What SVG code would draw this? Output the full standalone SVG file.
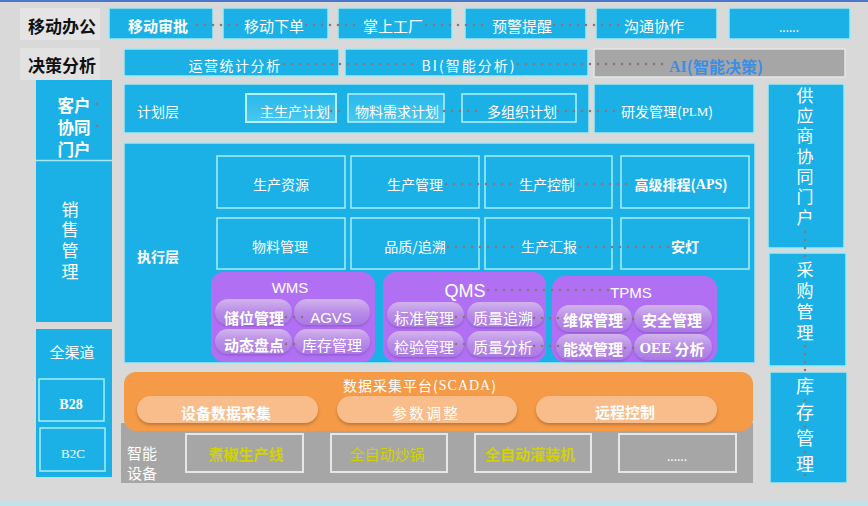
<svg xmlns="http://www.w3.org/2000/svg" width="868" height="506" viewBox="0 0 868 506" font-size="14">
<defs>
<linearGradient id="pill" x1="0" y1="0" x2="0" y2="1">
<stop offset="0" stop-color="#d2b4ec"/>
<stop offset="0.5" stop-color="#b98ce8"/>
<stop offset="1" stop-color="#a978e4"/>
</linearGradient>
<linearGradient id="plan" x1="0" y1="0" x2="0" y2="1">
<stop offset="0" stop-color="#2bb8ea"/>
<stop offset="1" stop-color="#48c8f0"/>
</linearGradient>
<filter id="sh" x="-10%" y="-20%" width="120%" height="160%">
<feDropShadow dx="0" dy="2" stdDeviation="1.5" flood-color="#7a4a20" flood-opacity="0.45"/>
</filter>
<filter id="shp" x="-10%" y="-20%" width="120%" height="160%">
<feDropShadow dx="0" dy="1.5" stdDeviation="1.2" flood-color="#6a3aa0" flood-opacity="0.4"/>
</filter>
</defs>
<style>
text{font-family:"Noto Sans CJK SC","Liberation Sans",sans-serif;fill:#fff;text-anchor:middle;dominant-baseline:central}
.vert{writing-mode:vertical-rl;text-orientation:upright}
.blue{fill:#1bb1e7}
.bb{fill:#1bb1e7;stroke:#a6e8f2;stroke-width:1.5}
.cell{fill:none;stroke:#a6eef6;stroke-width:1.5}
.lbl{fill:#111;font-weight:bold;font-size:17px}
.b{font-weight:bold}
.f15{font-size:15px}
.f16{font-size:16px}
.f165{font-size:16.5px}
.f17{font-size:17px}
.f18{font-size:18px}
.f12{font-size:12px}
.f13{font-size:13px}
.purple{fill:#b170f4}
.pill{fill:url(#pill);filter:url(#shp)}
.opill{fill:#f9bd8b;filter:url(#sh)}
.dev{fill:none;stroke:#e6e6e6;stroke-width:2}
.yel{fill:#d2d200}
.serif{font-family:"Liberation Serif",serif}
.sans{font-family:"Liberation Sans",sans-serif}
.ai{fill:#3a8ee6}
.dots{stroke:#8a7474;stroke-width:2.6;stroke-linecap:round;stroke-dasharray:0 8;fill:none}
</style>
<rect width="868" height="506" fill="#d9d9d9"/>
<rect width="868" height="2" fill="#4a78c8"/>
<rect y="502" width="868" height="4" fill="#bfe3ea"/>

<g id="row-mobile">
<rect x="20" y="8" width="80" height="32" fill="#e4e4e4"/>
<text class="lbl" x="62" y="25">移动办公</text>
</g>
<g id="n-ydsp"><rect class="bb" x="109" y="8" width="104" height="31"/><text class="b f15" x="158" y="25">移动审批</text></g>
<g id="n-ydxd"><rect class="bb" x="223" y="8" width="105" height="31"/><text class="f15" x="274" y="25">移动下单</text></g>
<g id="n-zsgc"><rect class="bb" x="338" y="8" width="114" height="31"/><text class="f15" x="393" y="25">掌上工厂</text></g>
<g id="n-yjtx"><rect class="bb" x="465" y="8" width="121" height="31"/><text class="f15" x="522" y="25">预警提醒</text></g>
<g id="n-gtxz"><rect class="bb" x="596" y="8" width="121" height="31"/><text class="f15" x="654" y="25">沟通协作</text></g>
<g id="n-more1"><rect class="bb" x="729" y="8" width="121" height="31"/><text class="f12" x="789" y="26">......</text></g>

<g id="row-decision">
<rect x="20" y="48" width="80" height="32" fill="#e2e2e2"/>
<text class="lbl" x="62" y="64">决策分析</text>
</g>
<g id="n-yytj"><rect class="bb" x="124" y="49" width="215" height="27"/><text x="235" y="65" letter-spacing="1.5">运营统计分析</text></g>
<g id="n-bi"><rect class="bb" x="345" y="49" width="243" height="27"/><text x="469" y="65" letter-spacing="2">BI(智能分析)</text></g>
<g id="n-ai"><rect x="594" y="49" width="251" height="28" fill="#a6a6a6" stroke="#e6e6e6" stroke-width="1.5"/><text class="b f16 ai" x="716" y="66"><tspan class="serif">AI</tspan>(智能决策)</text></g>

<g id="n-customer"><rect class="blue" x="36" y="80" width="76" height="80"/>
<text class="b f165" x="74" y="105"><tspan x="74" dy="0">客户</tspan><tspan x="74" dy="22">协同</tspan><tspan x="74" dy="22">门户</tspan></text></g>
<g id="n-sales"><rect class="blue" x="36" y="161" width="76" height="161"/><line x1="36" y1="160.5" x2="112" y2="160.5" stroke="#a6e8f2" stroke-width="1.5"/>
<text class="f17 vert" x="70" y="242" letter-spacing="3.7">销售管理</text></g>
<g id="n-channel"><rect class="blue" x="36" y="329" width="76" height="148"/><text class="f15" x="72" y="351">全渠道</text>
<rect x="39" y="379" width="65" height="42" fill="none" stroke="#a6eef6" stroke-width="1.5"/><text class="serif b" x="71" y="404">B28</text>
<rect x="40" y="428" width="65" height="43" fill="none" stroke="#a6eef6" stroke-width="1.5"/><text class="serif f13" x="73" y="453">B2C</text></g>

<g id="n-plan"><rect class="bb" x="124" y="84" width="465" height="49"/><text x="158" y="111">计划层</text>
<rect x="246" y="94" width="90" height="28" fill="url(#plan)" stroke="#b4f2fa" stroke-width="2"/><text x="295" y="111">主生产计划</text>
<rect x="348" y="94" width="96" height="28" fill="url(#plan)" stroke="#b4f2fa" stroke-width="1.5"/><text x="397" y="111">物料需求计划</text>
<rect x="462" y="94" width="114" height="28" fill="none" stroke="#b4f2fa" stroke-width="1.5"/><text x="522" y="111">多组织计划</text></g>
<g id="n-plm"><rect class="bb" x="594" y="84" width="160" height="49"/><text x="667" y="111">研发管理(<tspan class="serif f13">PLM</tspan>)</text></g>

<g id="n-supplier"><rect class="bb" x="768" y="84" width="76" height="164"/>
<text class="f17 vert" x="805" y="158" letter-spacing="3.3">供应商协同门户</text></g>
<g id="n-purchase"><rect class="bb" x="769" y="253" width="77" height="113"/>
<text class="f17 vert" x="805" y="303" letter-spacing="4">采购管理</text></g>
<g id="n-stock"><rect class="bb" x="770" y="372" width="77" height="111"/>
<text class="f18 vert" x="805" y="429" letter-spacing="7.7">库存管理</text></g>

<g id="n-exec"><rect class="bb" x="124" y="143" width="631" height="220"/><text class="b" x="158" y="256">执行层</text></g>
<g id="n-scrs"><rect class="cell" x="217" y="156" width="128" height="52"/><text x="281" y="184">生产资源</text></g>
<g id="n-scgl"><rect class="cell" x="351" y="156" width="128" height="52"/><text x="415" y="184">生产管理</text></g>
<g id="n-sckz"><rect class="cell" x="485" y="156" width="127" height="52"/><text x="547" y="184">生产控制</text></g>
<g id="n-aps"><rect class="cell" x="621" y="156" width="128" height="52"/><text class="b" x="681" y="184">高级排程(<tspan class="serif">APS</tspan>)</text></g>
<g id="n-wlgl"><rect class="cell" x="217" y="218" width="128" height="51"/><text x="280" y="246">物料管理</text></g>
<g id="n-pzzs"><rect class="cell" x="351" y="218" width="128" height="51"/><text x="415" y="246">品质/追溯</text></g>
<g id="n-schb"><rect class="cell" x="485" y="218" width="127" height="51"/><text x="549" y="246">生产汇报</text></g>
<g id="n-ad"><rect class="cell" x="621" y="218" width="128" height="51"/><text class="b" x="685" y="246">安灯</text></g>

<g id="n-wms"><rect class="purple" x="211" y="272" width="164" height="90" rx="13"/><text class="sans f15" x="290" y="287">WMS</text>
<rect class="pill" x="215" y="299" width="77" height="26" rx="13"/><text class="b f15" x="254" y="317">储位管理</text>
<rect class="pill" x="294" y="299" width="76" height="26" rx="13"/><text class="sans f15" x="331" y="317">AGVS</text>
<rect class="pill" x="215" y="329" width="77" height="25" rx="12.5"/><text class="b f15" x="254" y="344">动态盘点</text>
<rect class="pill" x="294" y="329" width="76" height="25" rx="12.5"/><text class="f15" x="332" y="344">库存管理</text></g>
<g id="n-qms"><rect class="purple" x="383" y="272" width="163" height="90" rx="13"/><text class="sans f18" x="465" y="291">QMS</text>
<rect class="pill" x="387" y="302" width="77" height="25" rx="12.5"/><text class="f15" x="424" y="317">标准管理</text>
<rect class="pill" x="467" y="302" width="77" height="25" rx="12.5"/><text class="f15" x="503" y="317">质量追溯</text>
<rect class="pill" x="387" y="331" width="77" height="26" rx="13"/><text class="f15" x="424" y="346">检验管理</text>
<rect class="pill" x="467" y="331" width="77" height="26" rx="13"/><text class="f15" x="503" y="346">质量分析</text></g>
<g id="n-tpms"><rect class="purple" x="552" y="276" width="165" height="86" rx="13"/><text class="sans f15" x="631" y="292">TPMS</text>
<rect class="pill" x="556" y="305" width="76" height="27" rx="13.5"/><text class="b f15" x="593" y="319">维保管理</text>
<rect class="pill" x="634" y="305" width="78" height="27" rx="13.5"/><text class="b f15" x="672" y="319">安全管理</text>
<rect class="pill" x="556" y="334" width="76" height="26" rx="13"/><text class="b f15" x="593" y="348">能效管理</text>
<rect class="pill" x="634" y="334" width="78" height="26" rx="13"/><text class="b f15" x="672" y="348"><tspan class="serif">OEE</tspan> 分析</text></g>

<g id="n-devices"><rect x="121" y="423" width="632" height="60" fill="#a6a6a6"/>
<text class="f15" x="142" y="452"><tspan x="142" dy="0">智能</tspan><tspan x="142" dy="20">设备</tspan></text></g>
<g id="n-zjscx"><rect class="dev" x="186" y="434" width="117" height="38"/><text class="yel b f15" x="246" y="453">煮椒生产线</text></g>
<g id="n-qzdcg"><rect class="dev" x="331" y="434" width="116" height="38"/><text class="yel f15" x="387" y="453">全自动炒锅</text></g>
<g id="n-qzdgzj"><rect class="dev" x="475" y="434" width="116" height="38"/><text class="yel b f15" x="530" y="453">全自动灌装机</text></g>
<g id="n-more2"><rect class="dev" x="619" y="434" width="117" height="38"/><text class="f12" x="677" y="455">......</text></g>

<g id="n-scada"><rect x="124" y="372" width="629" height="59" rx="12" fill="#f59a47"/>
<text x="420" y="385" letter-spacing="1">数据采集平台(<tspan class="serif">SCADA</tspan>)</text>
<rect class="opill" x="137" y="396" width="181" height="27" rx="13.5"/><text class="b f15" x="226" y="412">设备数据采集</text>
<rect class="opill" x="337" y="396" width="180" height="27" rx="13.5"/><text class="f15" x="426" y="412" letter-spacing="2">参数调整</text>
<rect class="opill" x="536" y="396" width="181" height="27" rx="13.5"/><text class="b f15" x="625" y="411">远程控制</text></g>

<g id="connectors">
<path class="dots" d="M197 25H243M306 25H360M426 25H490M554 25H620"/>
<path class="dots" d="M284 64H420M518 64H666"/>
<path class="dots" d="M331 111H346M444 111H484M558 111H622"/>
<path class="dots" d="M446 184H516M578 184H632"/>
<path class="dots" d="M448 247H518M580 247H670"/>
<path class="dots" d="M286 317H306M286 344H302"/>
<path class="dots" d="M488 290H610M456 317H470M534 318H562M456 344H470M534 346H562M625 319H641M625 348H637"/>
<path class="dots" d="M97 104V105M97 126V127"/>
<path class="dots" d="M805 232V262M805 346V372M805 400V401M805 427V428M805 452V453M805 475V476"/>
</g>
</svg>
